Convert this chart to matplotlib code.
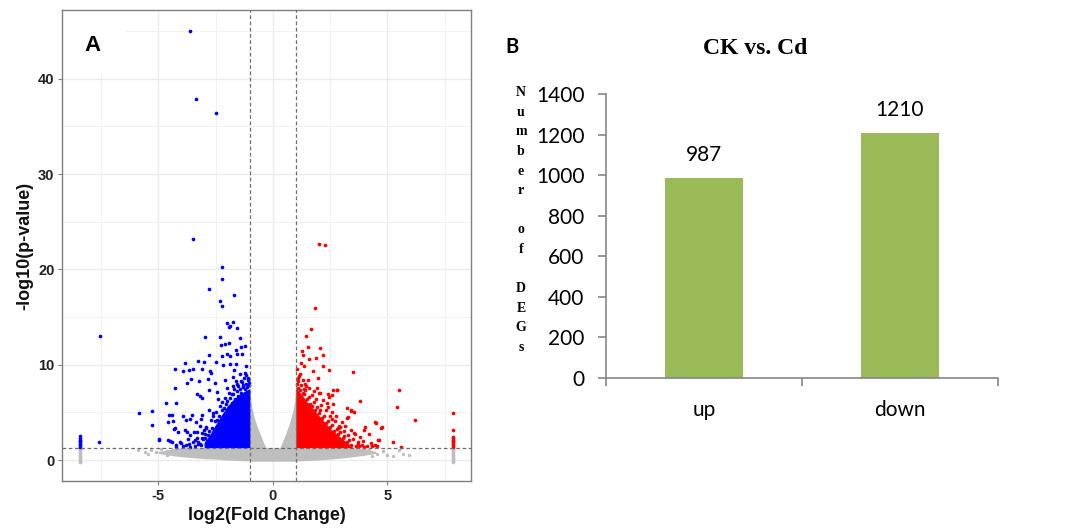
import matplotlib.pyplot as plt
from matplotlib.patches import Rectangle

plt.rcParams['axes.unicode_minus'] = False

# ---------------- panel A: volcano plot ----------------
# significant, down-regulated (blue)
blue_pts = [(-3.6, 45.0), (-3.35, 37.9), (-2.48, 36.4), (-3.49, 23.2), (-2.24, 20.2), (-2.24, 19.0),
            (-2.77, 17.9), (-1.69, 17.3), (-2.30, 16.7), (-2.21, 16.2),
            (-7.55, 13.0), (-7.57, 1.9), (-5.82, 4.9), (-5.27, 5.1), (-5.28, 3.7), (-4.98, 2.1),
            (-2.02, 14.4), (-1.73, 14.5), (-1.93, 14.0), (-1.56, 13.8), (-1.88, 14.1),
            (-2.96, 12.9), (-2.31, 12.9), (-1.44, 12.8), (-2.28, 12.1), (-2.1, 12.2), (-1.91, 12.3),
            (-1.62, 11.5), (-2.02, 11.1), (-1.37, 11.9), (-2.2, 10.9), (-1.88, 10.9), (-1.2, 12.0), (-1.35, 11.1),
            (-2.79, 11.0), (-3.26, 10.4), (-3.01, 10.3), (-3.83, 10.2),
            (-4.28, 9.5), (-3.92, 9.3), (-3.65, 9.4), (-3.48, 9.6), (-3.09, 9.5),
            (-2.75, 9.3), (-2.68, 9.1), (-2.46, 10.3), (-2.17, 10.0), (-1.88, 10.1), (-1.62, 10.1),
            (-1.56, 11.1), (-1.19, 9.9), (-1.7, 9.4),
            (-4.28, 7.6), (-3.74, 8.1), (-3.55, 8.5), (-3.22, 8.3), (-2.83, 8.5),
            (-3.33, 6.9), (-3.16, 6.7), (-2.78, 7.3), (-2.43, 7.1), (-2.53, 8.1), (-2.1, 8.4), (-1.73, 8.7),
            (-1.44, 9.0), (-1.22, 9.1), (-4.66, 6.0), (-4.22, 6.0), (-3.11, 6.5),
            (-4.53, 4.7), (-4.35, 4.1), (-3.92, 4.6), (-3.51, 4.7), (-3.12, 4.3), (-2.61, 4.9), (-4.42, 4.7),
            (-3.78, 4.2), (-3.62, 4.3), (-3.36, 4.0), (-3.07, 4.7), (-4.57, 4.0),
            (-4.28, 3.4), (-3.84, 3.1), (-3.33, 2.9), (-2.9, 3.4), (-4.31, 3.3), (-4.13, 2.9), (-3.73, 2.9), (-3.45, 2.9),
            (-4.97, 2.2), (-4.5, 2.0), (-4.06, 1.9), (-3.7, 2.2), (-3.26, 1.7),
            (-4.57, 2.1), (-4.42, 1.9), (-4.24, 1.6), (-4.21, 1.4), (-3.99, 1.8), (-3.78, 1.6), (-3.6, 1.4),
            (-3.41, 1.5), (-3.19, 1.7), (-2.93, 1.8),
            (-1.1, 8.4), (-1.15, 8.9), (-1.35, 8.2), (-1.5, 7.8), (-1.7, 7.4), (-1.9, 7.0), (-2.1, 6.5),
            (-2.3, 5.7), (-2.5, 5.0), (-2.7, 4.2), (-2.9, 3.5), (-3.1, 2.8), (-3.3, 2.3), (-3.5, 1.9),
            (-1.6, 8.3), (-2.0, 7.6), (-2.4, 6.4), (-2.8, 5.3), (-3.2, 3.6), (-3.6, 2.6), (-3.9, 1.5),
            (-1.3, 7.9), (-1.8, 6.9), (-2.2, 6.1), (-2.6, 4.6), (-3.0, 3.1), (-3.4, 2.1), (-2.05, 5.9),
            (-2.45, 4.2), (-2.85, 2.6), (-3.25, 1.9), (-3.65, 1.7), (-1.05, 8.1), (-1.25, 8.6),
            (-2.95, 2.3), (-2.88, 2.0), (-2.8, 3.0), (-2.72, 2.4), (-2.65, 3.4), (-2.58, 3.0), (-2.52, 4.1),
            (-2.42, 3.6), (-2.36, 4.6), (-2.3, 4.0), (-2.22, 5.2), (-2.15, 4.6), (-2.12, 5.5), (-2.02, 5.2),
            (-1.98, 6.2), (-1.92, 5.6), (-1.85, 6.5), (-1.78, 6.0), (-1.72, 6.9), (-1.65, 6.4), (-1.58, 7.2),
            (-1.52, 6.7), (-1.45, 7.5), (-1.38, 7.0), (-1.32, 7.7), (-1.22, 7.4), (-1.18, 8.0), (-1.12, 7.7),
            (-1.08, 8.6), (-1.02, 7.9), (-1.4, 8.3), (-1.55, 8.0), (-1.75, 7.8), (-3.05, 2.2), (-3.15, 1.6),
            (-3.1, 2.3), (-2.98, 2.7)]

# significant, up-regulated (red)
red_pts = [(2.02, 22.7), (2.27, 22.6), (1.85, 15.9), (1.65, 13.7), (1.44, 13.0), (1.53, 11.9), (2.05, 11.8),
           (1.27, 11.4), (2.21, 11.0), (1.88, 10.7), (1.30, 11.0), (1.56, 10.6), (2.17, 9.9), (2.46, 9.4),
           (3.48, 9.2), (1.76, 9.3), (1.37, 9.9), (1.98, 8.6), (2.63, 7.3), (2.81, 7.3), (3.81, 6.2),
           (5.49, 7.3), (5.44, 5.6), (2.05, 7.0), (2.46, 6.6), (2.63, 5.9), (3.22, 5.5), (3.54, 5.0),
           (3.4, 5.1), (3.24, 4.4), (2.59, 4.3), (4.5, 3.9), (4.73, 3.4), (4.02, 3.5), (3.98, 3.1),
           (2.85, 3.4), (3.6, 2.7), (4.2, 2.7), (4.6, 2.1), (5.23, 1.9), (6.2, 4.2), (4.47, 4.0),
           (4.75, 3.5), (5.59, 1.35), (4.64, 2.1), (4.34, 1.5), (4.53, 1.45), (3.73, 1.7), (3.41, 5.2),
           (3.26, 4.5), (2.78, 7.3), (2.4, 6.9), (2.6, 6.8), (2.0, 7.0), (2.93, 3.5),
           (1.1, 8.3), (1.15, 8.8), (1.2, 9.0), (1.3, 8.4), (1.45, 7.8), (1.6, 7.6), (1.7, 6.8),
           (1.9, 6.4), (2.1, 5.8), (2.3, 5.2), (2.5, 4.6), (2.7, 4.1), (2.9, 3.6), (3.1, 3.0), (3.3, 2.6),
           (3.5, 2.2), (3.7, 1.9), (3.9, 1.6), (4.1, 1.5), (2.2, 6.3), (1.8, 7.2), (2.4, 5.6), (2.6, 5.0),
           (3.0, 4.0), (3.4, 3.2), (3.8, 2.4), (4.3, 1.8), (1.05, 9.5), (1.25, 10.2), (1.35, 7.4),
           (1.55, 8.4), (1.95, 7.6), (2.35, 6.0), (2.75, 4.6), (3.15, 3.6), (3.55, 2.8), (3.95, 2.0),
           (4.0, 1.4), (4.45, 1.6),
           (1.05, 8.0), (1.1, 7.6), (1.18, 7.3), (1.22, 7.9), (1.3, 7.0), (1.38, 6.9), (1.42, 7.3),
           (1.5, 6.4), (1.58, 6.6), (1.62, 5.9), (1.72, 5.7), (1.78, 6.1), (1.85, 5.2), (1.92, 5.6),
           (2.02, 4.9), (2.08, 5.3), (2.15, 4.4), (2.25, 4.6), (2.32, 3.9), (2.42, 4.1), (2.48, 3.5),
           (2.58, 3.7), (2.68, 3.0), (2.78, 3.3), (2.85, 2.7), (2.95, 2.9), (3.05, 2.3), (3.12, 2.5),
           (3.22, 1.9), (3.32, 2.1), (3.42, 1.6), (3.62, 1.5), (3.75, 1.45), (1.12, 8.6), (1.4, 8.0)]

# not significant, isolated grey points at the fringes
gray_pts = [(-5.59, 0.8), (-5.45, 0.6), (-5.08, 0.8), (-4.64, 0.5), (-4.35, 1.0), (-4.06, 0.8),
            (-3.77, 0.5), (3.95, 0.6), (4.31, 0.45), (4.53, 0.6), (4.97, 0.5), (5.26, 0.45), (5.7, 0.6),
            (5.93, 0.5), (-5.3, 1.1), (-4.9, 1.15), (-4.6, 0.9), (4.2, 1.0), (4.8, 0.9), (5.5, 1.0),
            (-5.9, 1.1)]

# genes with clipped fold change stacked at both ends
stack_left_x = -8.4
stack_right_x = 7.85
stack_blue_y = [1.4, 1.55, 1.7, 1.85, 2.0, 2.15, 2.3, 2.5]
stack_red_y = [1.4, 1.55, 1.7, 1.85, 2.0, 2.15, 2.3, 2.45, 3.2, 4.9]
stack_gray_y = [-0.2, -0.05, 0.1, 0.25, 0.4, 0.55, 0.7, 0.85, 1.0, 1.15, 1.25]

# envelopes of the saturated point clouds
blue_cloud_x = [-3.0, -2.75, -2.5, -2.25, -2.0, -1.75, -1.5, -1.25, -1.0]
blue_cloud_top = [1.8, 2.7, 3.7, 4.7, 5.6, 6.3, 6.8, 7.2, 7.5]
red_cloud_x = [1.0, 1.25, 1.5, 1.75, 2.0, 2.25, 2.5, 2.75, 3.0, 3.25, 3.5]
red_cloud_top = [7.6, 6.9, 6.1, 5.4, 4.7, 4.0, 3.3, 2.8, 2.3, 1.8, 1.3]
v_x = [-1.0, -0.95, -0.85, -0.7, -0.55, -0.4, -0.25, -0.1, 0.0, 0.1, 0.25, 0.4, 0.55, 0.7, 0.85, 0.95, 1.0]
v_top = [7.2, 6.0, 4.8, 3.6, 2.7, 1.8, 1.0, 0.4, 0.15, 0.4, 1.0, 1.8, 2.7, 3.7, 4.9, 6.1, 7.4]
band_x = [-5.0, -4.5, -4.0, -3.5, -3.0, -2.5, -2.0, -1.5, -1.0, 1.0, 1.5, 2.0, 2.5, 3.0, 3.5, 4.0, 4.5]
band_top = [0.9, 1.1, 1.3, 1.3, 1.3, 1.3, 1.3, 1.3, 1.3, 1.3, 1.3, 1.3, 1.3, 1.3, 1.3, 1.2, 0.9]
band_bottom = [0.7, 0.5, 0.35, 0.25, 0.15, 0.1, 0.0, -0.05, -0.1, -0.1, -0.05, 0.0, 0.1, 0.2, 0.35, 0.5, 0.7]

fc_cut = 1.0
p_cut = 1.3

volcano_xticks = [-5, 0, 5]
volcano_yticks = [0, 10, 20, 30, 40]

# ---------------- panel B: DEG counts ----------------
deg_labels = ['up', 'down']
deg_counts = [987, 1210]
deg_yticks = [0, 200, 400, 600, 800, 1000, 1200, 1400]

BLUE = '#0000FF'
RED = '#FF0000'
GREY = '#BEBEBE'

fig = plt.figure(figsize=(10.68, 5.28), dpi=100)

# ---- A ----
ax = fig.add_axes([0.0581, 0.0890, 0.3829, 0.8920])
ax.set_xlim(-9.2, 8.65)
ax.set_ylim(-2.2, 47.2)
tick_font = dict(fontsize=10.5, fontweight='bold', family='Liberation Sans', color='#222222')
ax.set_xticks(volcano_xticks, labels=[str(v) for v in volcano_xticks], **tick_font)
ax.set_yticks(volcano_yticks, labels=[str(v) for v in volcano_yticks], **tick_font)
ax.set_xticks([-7.5, -2.5, 2.5, 7.5], minor=True)
ax.set_yticks([5, 15, 25, 35, 45], minor=True)
ax.grid(which='major', color='#EBEBEB', lw=1.0)
ax.grid(which='minor', color='#F2F2F2', lw=0.7)
ax.set_axisbelow(True)
ax.tick_params(which='minor', length=0)
ax.tick_params(which='major', length=3, width=0.8, color='#7F7F7F', pad=2.5)
for sp in ax.spines.values():
    sp.set_color('#7F7F7F')
    sp.set_linewidth(1.0)

ax.fill_between(band_x, band_bottom, band_top, color=GREY, lw=0, zorder=2)
ax.fill_between(v_x, -0.1, v_top, color=GREY, lw=0, zorder=2)
ax.fill_between(blue_cloud_x, p_cut, blue_cloud_top, color=BLUE, lw=0, zorder=3)
ax.fill_between(red_cloud_x, p_cut, red_cloud_top, color=RED, lw=0, zorder=3)

gx, gy = zip(*gray_pts)
ax.scatter(gx, gy, s=6, color=GREY, lw=0, zorder=2)
ax.scatter([stack_left_x] * len(stack_gray_y), stack_gray_y, s=7, color=GREY, lw=0, zorder=2)
ax.scatter([stack_right_x] * len(stack_gray_y), stack_gray_y, s=7, color=GREY, lw=0, zorder=2)
bx, by = zip(*blue_pts)
ax.scatter(bx, by, s=7, color=BLUE, lw=0, zorder=3)
ax.scatter([stack_left_x] * len(stack_blue_y), stack_blue_y, s=7, color=BLUE, lw=0, zorder=3)
rx, ry = zip(*red_pts)
ax.scatter(rx, ry, s=7, color=RED, lw=0, zorder=3)
ax.scatter([stack_right_x] * len(stack_red_y), stack_red_y, s=7, color=RED, lw=0, zorder=3)

dash = dict(color='#6E6E6E', lw=0.9, ls=(0, (3, 2)), zorder=4)
ax.axvline(-fc_cut, **dash)
ax.axvline(fc_cut, **dash)
ax.axhline(p_cut, **dash)

ax.add_patch(Rectangle((0, 0.866), 0.156, 0.134, transform=ax.transAxes,
                       facecolor='white', edgecolor='none', zorder=1))
ax.text(0.075, 0.925, 'A', transform=ax.transAxes, ha='center', va='center',
        fontsize=16, fontweight='bold', family='Liberation Sans', zorder=5)

ax.set_xlabel('log2(Fold Change)', fontsize=13, fontweight='bold', family='Liberation Sans',
              color='#111111', labelpad=3)
ax.set_ylabel('-log10(p-value)', fontsize=13, fontweight='bold', family='Liberation Sans',
              color='#111111', labelpad=3)

# ---- B ----
ax2 = fig.add_axes([0.5674, 0.2847, 0.3670, 0.5367])
bars = ax2.bar(range(len(deg_counts)), deg_counts, width=0.4, color='#9BBB59', zorder=2)
ax2.set_xlim(-0.5, len(deg_counts) - 0.5)
ax2.set_ylim(0, 1400)
ax2.set_yticks(deg_yticks, labels=[str(v) for v in deg_yticks], fontsize=15, family='Lato')
ax2.set_xticks(range(len(deg_labels)), labels=deg_labels, fontsize=15, family='Lato')
ax2.set_xticks([-0.5, 0.5, 1.5], minor=True)
for s in ['top', 'right']:
    ax2.spines[s].set_visible(False)
for s in ['left', 'bottom']:
    ax2.spines[s].set_color('#868686')
    ax2.spines[s].set_linewidth(1.2)
ax2.tick_params(axis='y', length=5.5, width=1.2, color='#868686', pad=10)
ax2.tick_params(axis='x', which='major', length=0, pad=16)
ax2.tick_params(axis='x', which='minor', length=6, width=1.2, color='#868686')
ax2.bar_label(bars, padding=9, fontsize=15, family='Lato')

fig.text(512 / 1068, 1 - 47 / 528, 'B', ha='center', va='center', fontsize=14.5,
         fontweight='bold', family='Lato')
fig.text(755 / 1068, 1 - 49 / 528, 'CK vs. Cd', ha='center', va='center', fontsize=17,
         fontweight='bold', family='Liberation Serif')
for i, ch in enumerate('Number of DEGs'):
    fig.text(521 / 1068, 1 - (92.7 + i * 19.6) / 528, ch, ha='center', va='center',
             fontsize=10, fontweight='bold', family='Liberation Serif')

fig.savefig('out.png', dpi=100)
